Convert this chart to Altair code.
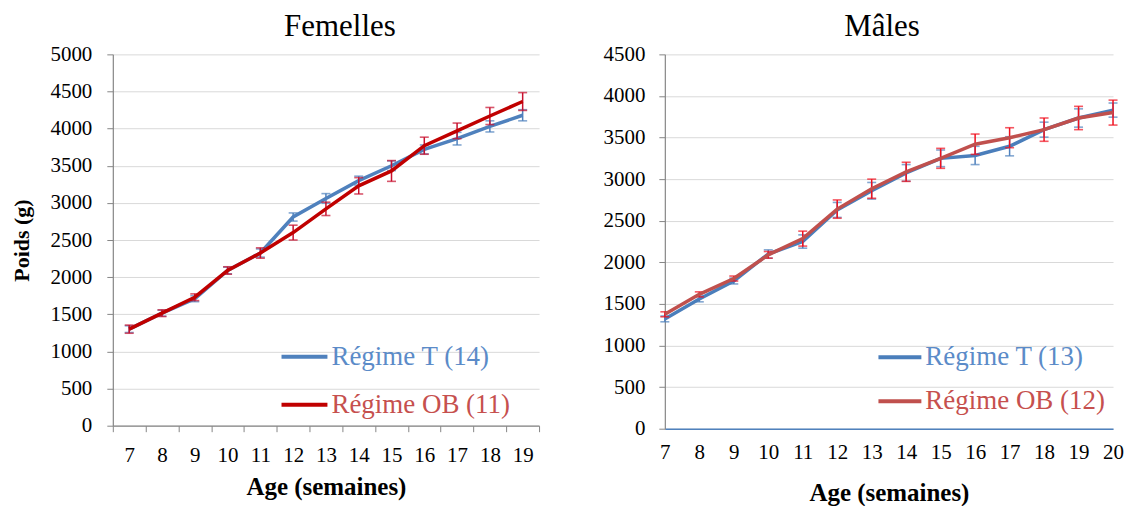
import altair as alt
import pandas as pd

FONT = "Liberation Serif"

# ---------------- data ----------------
weeks_f = [7, 8, 9, 10, 11, 12, 13, 14, 15, 16, 17, 18, 19]
fem_T = [1300, 1515, 1710, 2090, 2325, 2810, 3060, 3300, 3500, 3720, 3865, 4030, 4180]
fem_T_err = [45, 40, 40, 45, 55, 55, 65, 60, 65, 60, 85, 75, 75]
fem_OB = [1300, 1515, 1730, 2090, 2325, 2600, 2920, 3230, 3430, 3770, 3970, 4170, 4365]
fem_OB_err = [55, 45, 45, 50, 70, 100, 90, 110, 140, 115, 105, 115, 120]

weeks_m = [7, 8, 9, 10, 11, 12, 13, 14, 15, 16, 17, 18, 19, 20]
male_T = [1320, 1560, 1775, 2100, 2250, 2630, 2860, 3075, 3250, 3285, 3395, 3595, 3735, 3830]
male_T_err = [35, 35, 35, 50, 80, 90, 100, 100, 100, 110, 115, 90, 110, 85]
male_OB = [1375, 1615, 1805, 2090, 2285, 2640, 2885, 3088, 3250, 3420, 3498, 3595, 3735, 3800]
male_OB_err = [30, 30, 30, 40, 90, 110, 115, 115, 120, 122, 120, 140, 140, 150]

f_series = ["Régime T (14)", "Régime OB (11)"]
m_series = ["Régime T (13)", "Régime OB (12)"]

f_line_colors = ["#4F81BD", "#C00000"]
f_err_colors = ["#4F81BD", "#C8102E"]
m_line_colors = ["#4A7EBB", "#C0504D"]
m_err_colors = ["#4F81BD", "#F0101E"]
f_label_colors = ["#5B8BC8", "#C6504E"]
m_label_colors = ["#5B8BC8", "#C6504E"]


def frame(weeks, vals, errs, name):
    return pd.DataFrame({
        "week": weeks,
        "value": vals,
        "lo": [v - e for v, e in zip(vals, errs)],
        "hi": [v + e for v, e in zip(vals, errs)],
        "series": name,
    })


f_df = pd.concat([frame(weeks_f, fem_T, fem_T_err, f_series[0]),
                  frame(weeks_f, fem_OB, fem_OB_err, f_series[1])], ignore_index=True)
m_df = pd.concat([frame(weeks_m, male_T, male_T_err, m_series[0]),
                  frame(weeks_m, male_OB, male_OB_err, m_series[1])], ignore_index=True)

GRAY = "#868686"


def panel(df, series, line_colors, err_colors, label_colors, xenc_fn, yaxis, ydomain,
          legend_xy, legend_row, row_pad, title, title_dx, w, h):
    def yenc(field):
        return alt.Y(f"{field}:Q", scale=alt.Scale(domain=ydomain, nice=False), axis=yaxis)

    label_expr = (f"datum.label == '{series[0]}' ? '{label_colors[0]}' : '{label_colors[1]}'")
    legend = alt.Legend(
        title=None, orient="none", legendX=legend_xy[0], legendY=legend_xy[1],
        symbolType="stroke", symbolSize=legend_row * legend_row, symbolStrokeWidth=4,
        labelFont=FONT, labelFontSize=27, labelColor={"expr": label_expr},
        rowPadding=row_pad, labelOffset=2, labelLimit=400,
    )
    color = alt.Color("series:N", scale=alt.Scale(domain=series, range=line_colors), legend=legend)
    base = alt.Chart(df)
    layers = []
    for i, s in enumerate(series):
        b = base.transform_filter(alt.datum.series == s)
        layers.append(b.mark_rule(strokeWidth=1.5, color=err_colors[i]).encode(
            x=xenc_fn(), y=yenc("lo"), y2="hi"))
        layers.append(b.mark_tick(size=9, thickness=1.6, orient="horizontal",
                                  color=err_colors[i]).encode(x=xenc_fn(), y=yenc("lo")))
        layers.append(b.mark_tick(size=9, thickness=1.6, orient="horizontal",
                                  color=err_colors[i]).encode(x=xenc_fn(), y=yenc("hi")))
        layers.append(b.mark_line(strokeWidth=3.5).encode(
            x=xenc_fn(), y=yenc("value"), color=color))
    return alt.layer(*layers).properties(
        width=w, height=h,
        title=alt.TitleParams(title, font=FONT, fontSize=31, fontWeight="normal",
                              color="black", offset=0, anchor="middle", dx=title_dx),
    )


# ---- left panel (Femelles) ----
def xf():
    return alt.X("week:O", scale=alt.Scale(type="band", paddingInner=0, paddingOuter=0),
                 axis=alt.Axis(title="Age (semaines)", labelAngle=0, tickBand="extent",
                               tickSize=6, tickColor=GRAY, domainColor=GRAY, domainWidth=1.2,
                               labelFont=FONT, labelFontSize=21, labelColor="black",
                               labelPadding=13, titleFont=FONT, titleFontSize=25,
                               titleFontWeight="bold", titleColor="black", titlePadding=9,
                               grid=False))


yf_axis = alt.Axis(values=list(range(0, 5001, 500)), format="d", title="Poids (g)", grid=True,
                   gridColor="#D9D9D9", tickSize=6, tickColor=GRAY, domainColor=GRAY,
                   domainWidth=1.2, labelFont=FONT, labelFontSize=21, labelColor="black",
                   labelPadding=15, titleFont=FONT, titleFontSize=22, titleFontWeight="bold",
                   titleColor="black", titlePadding=16)

left = panel(f_df, f_series, f_line_colors, f_err_colors, f_label_colors, xf, yf_axis,
             [0, 5000], (167, 278), 46, 10, "Femelles", 14, 427, 372)


# ---- right panel (Mâles) ----
def xm():
    return alt.X("week:Q", scale=alt.Scale(domain=[7, 20], nice=False, zero=False),
                 axis=alt.Axis(title="Age (semaines)", values=weeks_m, format="d",
                               tickSize=0, domainColor="#4F81BD", domainWidth=1.5,
                               labelFlush=False,
                               labelFont=FONT, labelFontSize=21, labelColor="black",
                               labelPadding=13, titleFont=FONT, titleFontSize=25,
                               titleFontWeight="bold", titleColor="black", titlePadding=18,
                               grid=False))


ym_axis = alt.Axis(values=list(range(0, 4501, 500)), format="d", title=None, grid=True,
                   gridColor="#D9D9D9", tickSize=6, tickColor=GRAY, domainColor=GRAY,
                   domainWidth=1.2, labelFont=FONT, labelFontSize=21, labelColor="black",
                   labelPadding=14)

right = panel(m_df, m_series, m_line_colors, m_err_colors, m_label_colors, xm, ym_axis,
              [0, 4500], (212, 280), 43, 7, "Mâles", -7, 449, 375)

chart = alt.hconcat(left, right, spacing=63).resolve_scale(
    color="independent").resolve_legend(color="independent").configure(
    font=FONT).configure_axis(labelFont=FONT, titleFont=FONT).configure_legend(
    labelFont=FONT).configure_title(font=FONT).configure_view(
    stroke=None).properties(padding={"left": 3, "top": 3, "right": 5, "bottom": 0})

chart.save("out.html", embed_options={"renderer": "svg", "actions": False})
